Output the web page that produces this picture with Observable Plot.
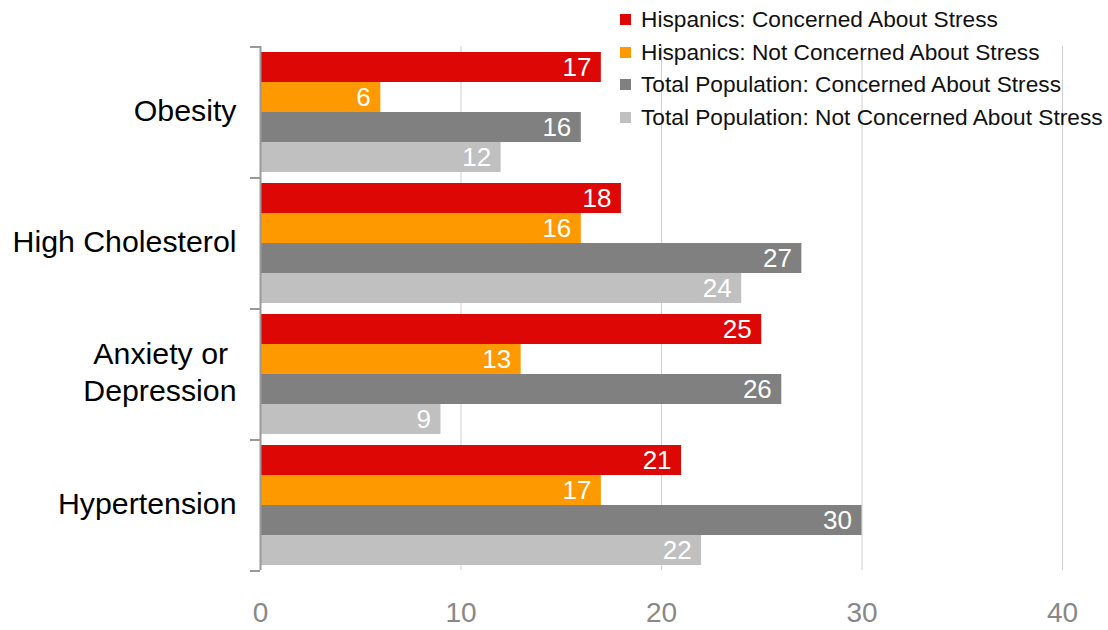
<!DOCTYPE html>
<html>
<head>
<meta charset="utf-8">
<script src="https://cdn.jsdelivr.net/npm/d3@7"></script>
<script src="https://cdn.jsdelivr.net/npm/@observablehq/plot@0.6"></script>
<style>
  body { margin: 0; background: #fff; font-family: "Liberation Sans", Arial, sans-serif; }
  #wrap { position: relative; width: 1108px; height: 630px; }
  #legend { position: absolute; left: 620px; top: 3px; font-size: 22.7px; color: #111; }
  #legend .item { display: flex; align-items: center; height: 32.7px; white-space: nowrap; }
  #legend .sw { width: 11px; height: 11px; margin-right: 10px; flex: none; }
</style>
</head>
<body>
<div id="wrap"><div id="legend"></div></div>
<script>
const categories = ["Obesity", "High Cholesterol", "Anxiety or Depression", "Hypertension"];
const categoryLabels = ["Obesity", "High Cholesterol", "Anxiety or \nDepression", "Hypertension"];
const series = [
  "Hispanics: Concerned About Stress",
  "Hispanics: Not Concerned About Stress",
  "Total Population: Concerned About Stress",
  "Total Population: Not Concerned About Stress"
];
const colors = ["#dd0806", "#ff9900", "#808080", "#c0c0c0"];
const hispanicsConcerned = [17, 18, 25, 21];
const hispanicsNotConcerned = [6, 16, 13, 17];
const totalConcerned = [16, 27, 26, 30];
const totalNotConcerned = [12, 24, 9, 22];
const xTicks = [0, 10, 20, 30, 40];

const valuesBySeries = [hispanicsConcerned, hispanicsNotConcerned, totalConcerned, totalNotConcerned];
const rows = [];
categories.forEach((c, i) => {
  series.forEach((s, j) => rows.push({category: c, series: s, value: valuesBySeries[j][i]}));
});

const font = '"Liberation Sans", Arial, sans-serif';

const chart = Plot.plot({
  width: 1108,
  height: 630,
  marginLeft: 260,
  marginRight: 46,
  marginTop: 45,
  marginBottom: 60,
  style: {fontFamily: font, background: "transparent"},
  facet: {data: rows, y: "category", label: null},
  fy: {domain: categories, padding: 0, label: null},
  y: {domain: series, paddingInner: 0, paddingOuter: 0.183, axis: null},
  x: {domain: [0, 40], label: null},
  color: {domain: series, range: colors},
  marks: [
    Plot.gridX(xTicks.slice(1), {stroke: "#cfcfcf", strokeOpacity: 1, strokeWidth: 1}),
    Plot.barX(rows, {x: "value", y: "series", fill: "series"}),
    Plot.text(rows, {x: "value", y: "series", text: d => String(d.value), textAnchor: "end", dx: -10, fill: "white", fontSize: 26}),
    Plot.ruleX([0], {stroke: "#999", strokeWidth: 2}),
    Plot.ruleY([series[0]], {x1: -0.5, x2: 0, stroke: "#999", strokeWidth: 2, dy: -20.5}),
    Plot.ruleY([series[3]], {x1: -0.5, x2: 0, stroke: "#999", strokeWidth: 2, dy: 20.5}),
    Plot.axisX(xTicks, {tickSize: 0, tickPadding: 32, fontSize: 28, fill: "#888", label: null, tickFormat: d => String(d)}),
    Plot.axisFy({anchor: "left", label: null, tickSize: 0, tickPadding: 24, dy: -3, fontSize: 30.3, fill: "#000", tickFormat: d => categoryLabels[categories.indexOf(d)], lineHeight: 1.2})
  ]
});
document.getElementById("wrap").prepend(chart);

const legend = document.getElementById("legend");
series.forEach((s, j) => {
  const item = document.createElement("div");
  item.className = "item";
  const sw = document.createElement("span");
  sw.className = "sw";
  sw.style.background = colors[j];
  const label = document.createElement("span");
  label.textContent = s;
  item.append(sw, label);
  legend.append(item);
});
</script>
</body>
</html>
